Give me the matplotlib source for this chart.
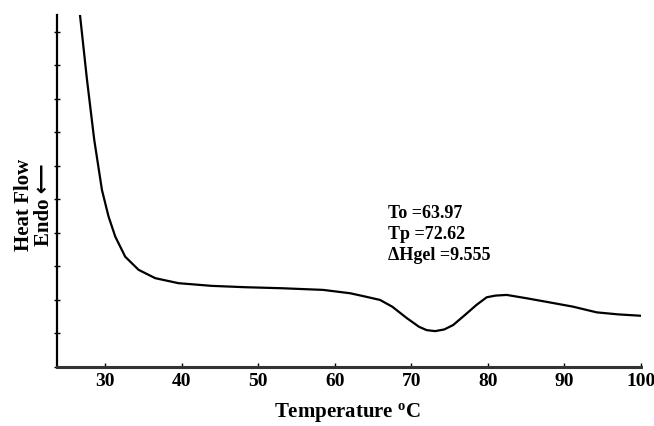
import numpy as np
import matplotlib
matplotlib.use("Agg")
import matplotlib.pyplot as plt

plt.rcParams["mathtext.fontset"] = "custom"
plt.rcParams["mathtext.rm"] = "Liberation Serif:bold"
plt.rcParams["mathtext.it"] = "Liberation Serif:bold"
plt.rcParams["mathtext.bf"] = "Liberation Serif:bold"

# DSC curve (temperature, heat flow in axis units)
temp = [26.7, 27.6, 28.56, 29.57, 30.43, 31.31, 32.61, 34.35, 36.53, 39.57,
        43.93, 48.28, 53.0, 58.47, 62.0, 64.0, 65.91, 67.5, 69.4, 71.0,
        72.0, 73.1, 74.3, 75.45, 77.0, 78.5, 79.85, 81.0, 82.46, 85.07,
        88.0, 91.12, 94.22, 97.0, 99.87]
heat = [10.5, 8.6, 6.78, 5.28, 4.49, 3.89, 3.29, 2.90, 2.65, 2.50,
        2.42, 2.38, 2.35, 2.30, 2.20, 2.10, 2.00, 1.80, 1.46, 1.20,
        1.10, 1.07, 1.12, 1.25, 1.55, 1.85, 2.08, 2.13, 2.15, 2.05,
        1.93, 1.80, 1.63, 1.57, 1.53]

x_ticks = [30, 40, 50, 60, 70, 80, 90, 100]
y_ticks = list(range(0, 11))

notes = ["To =63.97", "Tp =72.62", "\u0394Hgel =9.555"]

serif = ["Liberation Serif", "DejaVu Sans"]

fig = plt.figure(figsize=(6.54, 4.26), dpi=100)
ax = fig.add_axes([0.0872, 0.1385, 0.8928, 0.8263])

ax.plot(temp, heat, color="black", linewidth=1.6)

ax.set_xlim(23.7, 100)
ax.set_ylim(0, 10.5)

ax.spines["top"].set_visible(False)
ax.spines["right"].set_visible(False)
ax.spines["left"].set_linewidth(1.6)
ax.spines["bottom"].set_linewidth(2.2)
ax.spines["bottom"].set_color("#333333")

ax.set_xticks(x_ticks)
ax.set_xticklabels([str(t) for t in x_ticks], family=serif, fontweight="bold", fontsize=14)
ax.set_yticks(y_ticks)
ax.set_yticklabels([])
ax.tick_params(axis="x", direction="in", length=3, width=1, pad=4)
ax.tick_params(axis="y", direction="inout", length=4, width=1)

# annotation block
for i, s in enumerate(notes):
    ax.text(66.9, 4.57 - i * 0.62, s, family=serif, fontweight="bold",
            fontsize=13, va="center", ha="left")

fig.text(0.532, 0.022, "Temperature $^{\\mathrm{o}}$C", family=serif, fontweight="bold",
         fontsize=15, ha="center", va="baseline")
fig.text(0.052, 0.52, "Heat Flow\nEndo \u27f5", family=serif, fontweight="bold",
         fontsize=15, rotation=90, ha="center", va="center", linespacing=0.95)

plt.savefig("out.png", dpi=100)
